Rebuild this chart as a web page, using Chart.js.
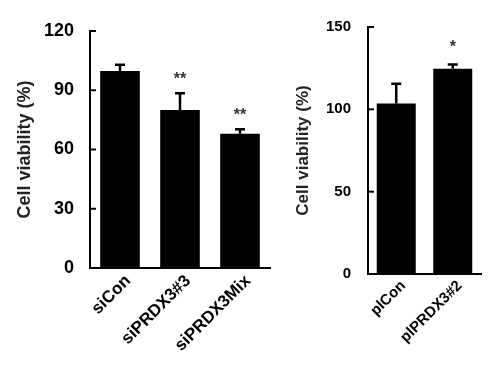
<!DOCTYPE html>
<html><head><meta charset="utf-8">
<script src="https://cdn.jsdelivr.net/npm/chart.js@4"></script>
<style>
html,body{margin:0;padding:0;background:#fff;}
#wrap{position:relative;width:500px;height:386px;overflow:hidden;}
.box{position:absolute;top:0;}
</style></head><body>
<div id="wrap">
<div class="box" style="left:0;width:280px;height:386px"><canvas id="c1" width="280" height="386"></canvas></div>
<div class="box" style="left:270px;width:230px;height:386px"><canvas id="c2" width="230" height="386"></canvas></div>
</div>
<script>
// ---- data ----
const leftCategories = ['siCon', 'siPRDX3#3', 'siPRDX3Mix'];
const leftValues = [99.7, 80.0, 68.0];
const leftErrors = [3.2, 8.5, 2.3];
const leftSig = ['', '**', '**'];
const leftTicks = [0, 30, 60, 90, 120];

const rightCategories = ['plCon', 'plPRDX3#2'];
const rightValues = [103.5, 124.7];
const rightErrors = [12.1, 2.6];
const rightSig = ['', '*'];
const rightTicks = [0, 50, 100, 150];

const FONT = "'Liberation Sans', Arial, sans-serif";

const annot = {
  id: 'annot',
  afterDatasetsDraw(chart, args, o) {
    const ctx = chart.ctx, y = chart.scales.y;
    const meta = chart.getDatasetMeta(0);
    ctx.save();
    ctx.strokeStyle = '#000';
    ctx.lineWidth = 2.5;
    meta.data.forEach((bar, i) => {
      const v = o.values[i], e = o.errors[i];
      const cx = bar.x;
      const yb = y.getPixelForValue(v);
      const yt = y.getPixelForValue(v + e);
      ctx.beginPath();
      ctx.moveTo(cx, yb); ctx.lineTo(cx, yt);
      ctx.moveTo(cx - o.cap, yt); ctx.lineTo(cx + o.cap, yt);
      ctx.stroke();
      if (o.sig[i]) {
        ctx.fillStyle = '#333';
        ctx.font = 'bold ' + o.sigSize + 'px ' + FONT;
        ctx.textAlign = 'center';
        ctx.textBaseline = 'middle';
        ctx.fillText(o.sig[i], cx, yt - o.sigGap);
      }
    });
    ctx.lineWidth = 2;
    y.ticks.forEach(t => {
      const py = y.getPixelForValue(t.value);
      ctx.beginPath();
      ctx.moveTo(y.right, py); ctx.lineTo(y.right + o.tick, py);
      ctx.stroke();
    });
    ctx.restore();
  }
};

function makeChart(id, cats, vals, errs, sig, ticks, cfg) {
  return new Chart(document.getElementById(id), {
    type: 'bar',
    data: { labels: cats, datasets: [{ data: vals, backgroundColor: '#000', borderWidth: 0,
      barPercentage: cfg.barPct, categoryPercentage: 1 }] },
    options: {
      responsive: false, animation: false, devicePixelRatio: 1,
      layout: { padding: { top: cfg.top, right: cfg.right, left: 0, bottom: 0 } },
      plugins: { legend: { display: false }, tooltip: { enabled: false },
        annot: { values: vals, errors: errs, sig: sig, cap: 5, sigGap: cfg.sigGap, sigSize: cfg.sigSize, tick: 6 } },
      scales: {
        x: {
          grid: { display: false, drawTicks: false },
          border: { display: true, color: '#000', width: 2 },
          ticks: { color: '#000', font: { family: FONT, size: cfg.xFont, weight: 'bold' },
            minRotation: 45, maxRotation: 45, autoSkip: false, padding: cfg.xPad, labelOffset: cfg.xOff },
          afterFit: s => { s.height = cfg.xH; }
        },
        y: {
          min: 0, max: ticks[ticks.length - 1],
          grid: { display: false, drawTicks: false },
          border: { display: true, color: '#000', width: 2 },
          afterBuildTicks: s => { s.ticks = ticks.map(v => ({ value: v })); },
          ticks: { color: '#000', padding: cfg.yPad, font: { family: FONT, size: cfg.yFont, weight: 'bold' } },
          title: { display: true, text: 'Cell viability (%)', color: '#222',
            font: { family: FONT, size: cfg.tFont, weight: 'bold' }, padding: { top: cfg.tPad, bottom: 0 } },
          afterFit: s => { s.width = cfg.yW; }
        }
      }
    },
    plugins: [annot]
  });
}

makeChart('c1', leftCategories, leftValues, leftErrors, leftSig, leftTicks,
  { barPct: 0.66, top: 31, right: 10, xH: 118, yW: 90, xFont: 17, yFont: 18, tFont: 18, tPad: 14,
    xPad: 3, xOff: 8, yPad: 16, sigGap: 14, sigSize: 16 });
makeChart('c2', rightCategories, rightValues, rightErrors, rightSig, rightTicks,
  { barPct: 0.69, top: 27, right: 19, xH: 112, yW: 98, xFont: 15, yFont: 15, tFont: 17, tPad: 23,
    xPad: 3, xOff: 7, yPad: 17, sigGap: 17, sigSize: 16 });
</script>
</body></html>
